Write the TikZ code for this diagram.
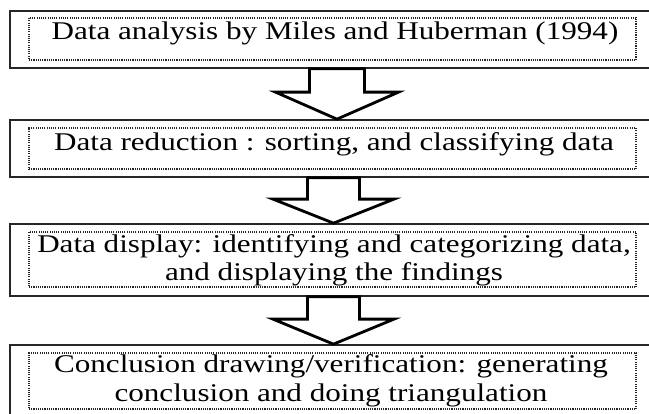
\documentclass[tikz,border=0pt]{standalone}
\usepackage{fontspec}
\setmainfont{Liberation Serif}[FakeStretch=1.22]
\usetikzlibrary{calc}
\tikzset{
  outerbox/.style={draw=black!85, line width=1.7pt, minimum width=660pt, inner sep=0pt},
  innerbox/.style={draw=black!85, line width=1.2pt, dash pattern=on 1.1pt off 1.1pt,
    minimum width=607pt, inner sep=0pt},
  txt/.style={anchor=base, inner sep=0pt, font=\fontsize{25.5}{29}\selectfont},
  barrow/.style={draw=black, line width=2.8pt, line join=miter, fill=white}
}
\newcommand{\blockarrow}[5]{%
  \draw[barrow] (#2) -- ($(#2)+(-#4,-#5)$) -- ($(#2)+(-#3,-#5)$) -- ($(#1)+(-#3,0)$)
    -- ($(#1)+(#3,0)$) -- ($(#2)+(#3,-#5)$) -- ($(#2)+(#4,-#5)$) -- cycle;}
\begin{document}
\begin{tikzpicture}[x=1pt,y=-1pt]
\useasboundingbox (0,0) rectangle (649,414);
% outer boxes
\node[outerbox, minimum height=57pt] (o1) at (340,39.5) {};
\node[outerbox, minimum height=57pt] (o2) at (340,148.5) {};
\node[outerbox, minimum height=72pt] (o3) at (340,260) {};
\node[outerbox, minimum height=80pt] (o4) at (340,385) {};
% inner dotted boxes
\node[innerbox, minimum height=42pt] (i1) at (332.5,39) {};
\node[innerbox, minimum height=41pt] (i2) at (332.5,148.5) {};
\node[innerbox, minimum height=55pt] (i3) at (332.5,259.5) {};
\node[innerbox, minimum height=56pt] (i4) at (332.5,381) {};
% texts
\node[txt] (t1) at (335,40) {Data analysis by Miles and Huberman (1994)};
\node[txt] (t2) at (334,150.5) {Data reduction : sorting, and classifying data};
\node[txt] (t3a) at (334,253) {Data display: identifying and categorizing data,};
\node[txt] (t3b) at (334,281) {and displaying the findings};
\node[txt] (t4a) at (331,373) {Conclusion drawing/verification: generating};
\node[txt] (t4b) at (331,402) {conclusion and doing triangulation};
% arrows
\coordinate (a1t) at (o1.south -| 337,0);
\coordinate (a1h) at (o2.north -| 337,0);
\coordinate (a2t) at (o2.south -| 333.5,0);
\coordinate (a2h) at (o3.north -| 333.5,0);
\coordinate (a3t) at (o3.south -| 333.5,0);
\coordinate (a3h) at (o4.north -| 333.5,0);
\blockarrow{a1t}{a1h}{27.5}{61.5}{27}
\blockarrow{a2t}{a2h}{26}{60.5}{24}
\blockarrow{a3t}{a3h}{26}{60.5}{25}
\end{tikzpicture}
\end{document}
